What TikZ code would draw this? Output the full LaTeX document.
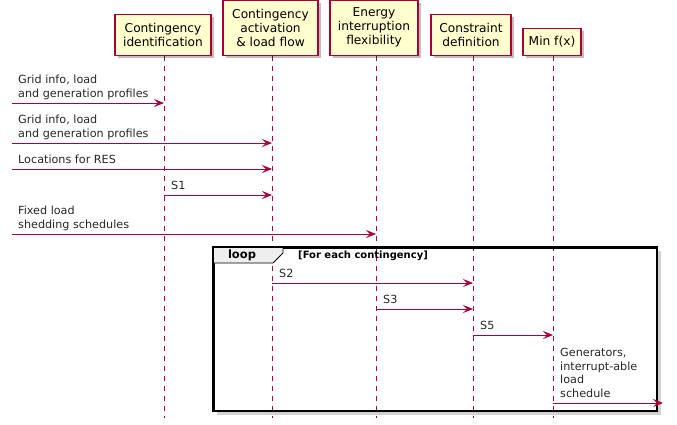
\documentclass[tikz,border=0pt]{standalone}
\usepackage{fontspec}
\setmainfont{DejaVu Sans}
\usetikzlibrary{arrows.meta,shadows,calc}
\definecolor{pu}{HTML}{A80036}
\definecolor{pfill}{HTML}{FEFECE}
\definecolor{tabfill}{HTML}{EEEEEE}
\begin{document}
\begin{tikzpicture}[x=1pt,y=-1pt,
  part/.style={draw=pu, fill=pfill, line width=1.4pt, align=center, inner xsep=0pt, inner ysep=0pt,
    font=\fontsize{12.2}{14}\selectfont, anchor=south,
    drop shadow={shadow xshift=3pt,shadow yshift=-3pt,opacity=0.25,fill=black}},
  life/.style={draw=pu, dash pattern=on 5pt off 5pt, line width=0.8pt},
  msg/.style={draw=pu, line width=0.9pt, -{Stealth[length=10pt,width=8pt,inset=4pt]}},
  lbl/.style={anchor=south west, inner sep=0pt, align=left, text=black!85, font=\fontsize{11.2}{13.5}\selectfont},
]
\useasboundingbox (0,0) rectangle (677,424);
\coordinate (bot) at (0,418);
% lifelines first (behind)
\coordinate (l1) at (164,56);
\coordinate (l2) at (272,56);
\coordinate (l3) at (376,56);
\coordinate (l4) at (473,56);
\coordinate (l5) at (553,56);
\foreach \i in {1,...,5}{\draw[life] (l\i) -- (l\i |- bot);}
% participants
\node[part, minimum width=96, minimum height=41] (p1) at (163,56) {Contingency\\ identification};
\node[part, minimum width=95, minimum height=55] (p2) at (270.5,56) {Contingency\\activation\\\& load flow};
\node[part, minimum width=88, minimum height=55] (p3) at (374,56) {Energy\\interruption\\flexibility};
\node[part, minimum width=80, minimum height=41] (p4) at (471,56) {Constraint\\definition};
\node[part, minimum width=58, minimum height=27] (p5) at (552,56) {Min f(x)};
% messages
\coordinate (m1) at (12,103);
\draw[msg] (m1) -- (l1 |- m1);
\node[lbl] (t1) at ($(m1)+(6,-1.5)$) {Grid info, load\\and generation profiles\strut};
\coordinate (m2) at (12,143);
\draw[msg] (m2) -- (l2 |- m2);
\node[lbl] (t2) at ($(m2)+(6,-1.5)$) {Grid info, load\\and generation profiles\strut};
\coordinate (m3) at (12,169);
\draw[msg] (m3) -- (l2 |- m3);
\node[lbl] (t3) at ($(m3)+(6,-1.5)$) {Locations for RES\strut};
\coordinate (m4) at (0,195);
\draw[msg] (l1 |- m4) -- (l2 |- m4);
\node[lbl] (t4) at ($(l1 |- m4)+(7,-1.5)$) {S1\strut};
\coordinate (m5) at (12,234);
\draw[msg] (m5) -- (l3 |- m5);
\node[lbl] (t5) at ($(m5)+(6,-1.5)$) {Fixed load\\shedding schedules\strut};
% loop frame
\draw[black!18, line width=3pt] (659.5,251) -- (659.5,413.5) -- (217,413.5);
\node[draw=black, line width=1.5pt, minimum width=443, minimum height=163, anchor=north west, inner sep=0pt] (loop) at (213,247) {};
\draw[fill=tabfill, draw=black, line width=0.8pt] (loop.north west) -- ++(70,0) -- ++(0,6) -- ++(-10,10) -- ++(-60,0) -- cycle;
\draw[black, line width=1.5pt] (loop.north west) rectangle (loop.south east);
\node[font=\fontsize{11.5}{13}\selectfont\bfseries, inner sep=0pt] (lp) at (242,255.5) {loop};
\node[font=\fontsize{10}{12}\selectfont\bfseries, inner sep=0pt, anchor=west] (cond) at (298,255.5) {[For each contingency]};
\coordinate (m6) at (0,283);
\draw[msg] (l2 |- m6) -- (l4 |- m6);
\node[lbl] (t6) at ($(l2 |- m6)+(7,-1.5)$) {S2\strut};
\coordinate (m7) at (0,309);
\draw[msg] (l3 |- m7) -- (l4 |- m7);
\node[lbl] (t7) at ($(l3 |- m7)+(7,-1.5)$) {S3\strut};
\coordinate (m8) at (0,335);
\draw[msg] (l4 |- m8) -- (l5 |- m8);
\node[lbl] (t8) at ($(l4 |- m8)+(7,-1.5)$) {S5\strut};
\coordinate (m9) at (663,403);
\draw[msg] (l5 |- m9) -- (m9);
\node[lbl] (t9) at ($(l5 |- m9)+(7,-1.5)$) {Generators,\\interrupt-able\\load\\schedule\strut};
\end{tikzpicture}
\end{document}
